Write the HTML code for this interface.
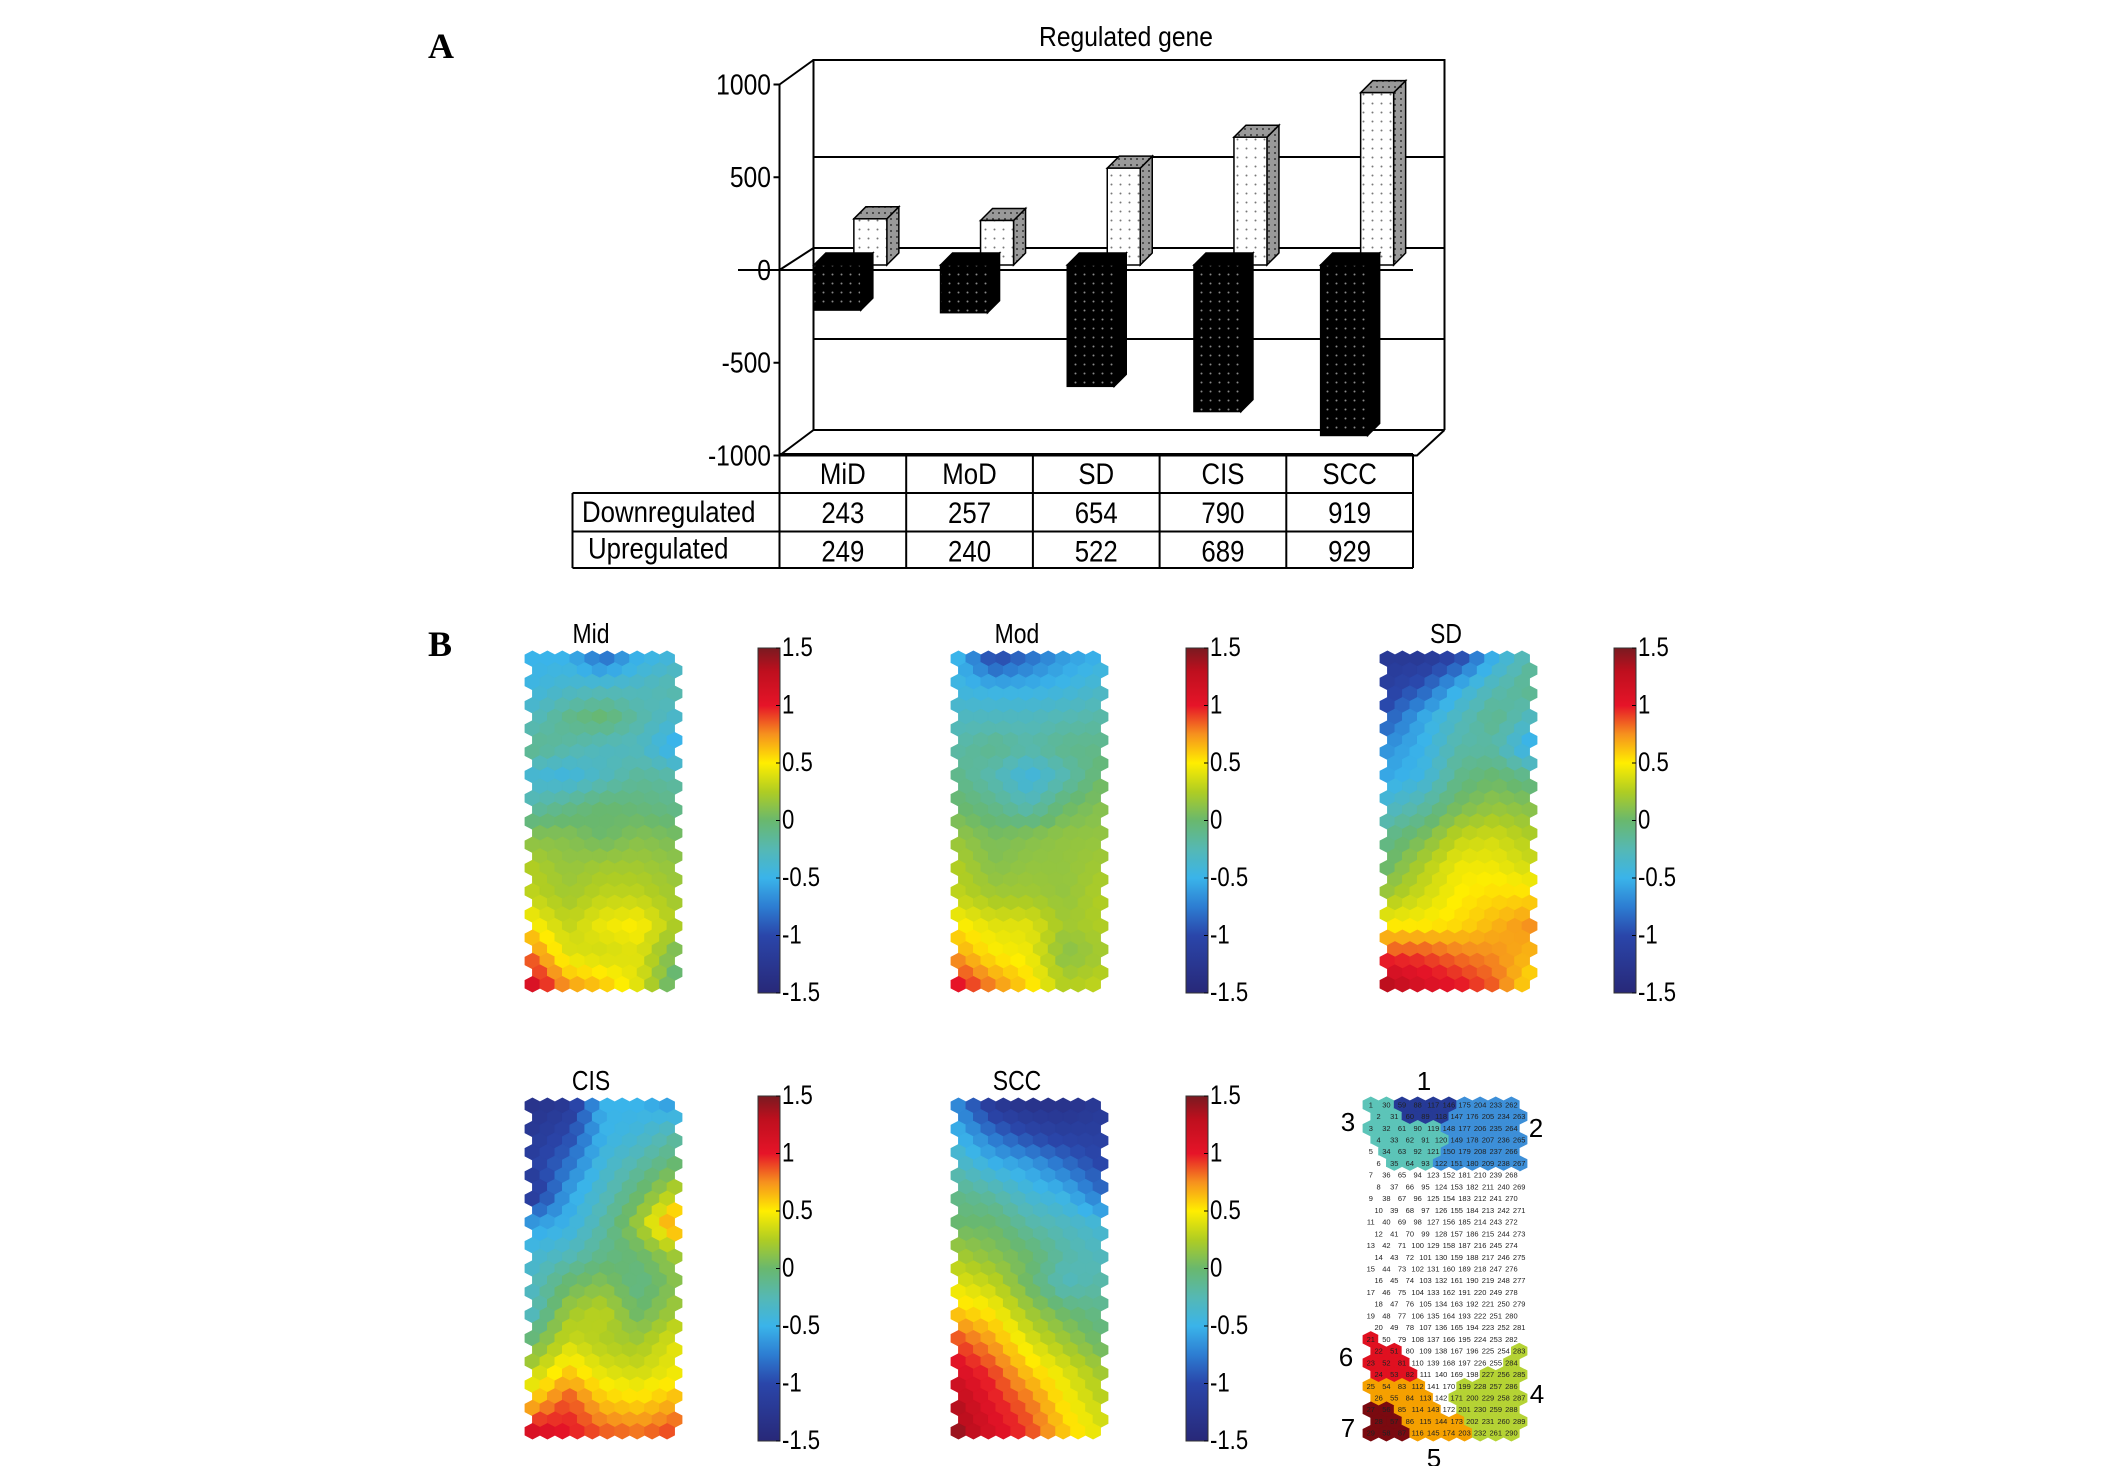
<!DOCTYPE html>
<html><head><meta charset="utf-8">
<style>
html,body{margin:0;padding:0;background:#fff;}
svg{display:block;font-family:"Liberation Sans",sans-serif;}
</style></head>
<body>
<svg id="fig" width="2126" height="1466" viewBox="0 0 2126 1466" xmlns="http://www.w3.org/2000/svg">
<defs>
<pattern id="dotsB" width="9" height="9" patternUnits="userSpaceOnUse"><rect width="9" height="9" fill="#000"/><circle cx="4.5" cy="4.5" r="1" fill="#888"/></pattern>
<pattern id="dotsW" width="9" height="9" patternUnits="userSpaceOnUse"><rect width="9" height="9" fill="#fff"/><circle cx="4.5" cy="4.5" r="1" fill="#777"/></pattern>
<pattern id="dotsG" width="6" height="6" patternUnits="userSpaceOnUse"><rect width="6" height="6" fill="#999"/><circle cx="3" cy="3" r="1" fill="#333"/></pattern>
<linearGradient id="jet" x1="0" y1="1" x2="0" y2="0"></linearGradient>
</defs>
<text x="428" y="58" font-family="Liberation Serif,serif" font-weight="bold" font-size="36">A</text>
<text x="428" y="656" font-family="Liberation Serif,serif" font-weight="bold" font-size="36">B</text>
<text x="1126" y="46" text-anchor="middle" font-size="28" transform="translate(1126,0) scale(0.88,1) translate(-1126,0)">Regulated gene</text>
<g id="barchart"></g>
<g id="maps"></g>
</svg>
<script>
const categories=["MiD","MoD","SD","CIS","SCC"];
const downValues=[243,257,654,790,919];
const upValues=[249,240,522,689,929];
const yTicks=[1000,500,0,-500,-1000];

const NS="http://www.w3.org/2000/svg";
function mk(tag,attrs,parent){const e=document.createElementNS(NS,tag);for(const k in attrs)e.setAttribute(k,attrs[k]);if(parent)parent.appendChild(e);return e;}
const bc=document.getElementById('barchart');
const X0=779.5,BAND=126.7,DX=34,Z=265,WALLTOP=60;
function yS(v){return 270-v*0.1855;}
function yB(v){return 248-v*0.182;}
function xC(i){return X0+BAND*(i+0.5);}
const ln={stroke:'#000','stroke-width':2,fill:'none'};
for(const t of [500,0,-500]){
  const l=mk('line',Object.assign({x1:X0+DX,x2:1444.5,y1:yB(t),y2:yB(t)},ln),bc);
  
  
}
let w=mk('path',Object.assign({d:`M${X0+DX},${yB(-1000)}V${WALLTOP}H1444.5V${yB(-1000)}`},ln),bc);


let fl=mk('path',Object.assign({d:`M${X0},${yS(-1000)}L${X0+DX},${yB(-1000)}M${X0},${yS(1000)}L${X0+DX},${WALLTOP}M${X0},${yS(0)}L${X0+DX},${yB(0)}M${X0},${yS(-1000)}H1417L1444.5,${yB(-1000)}M${X0+DX},${yB(-1000)}H1444.5`},ln),bc);


let zl=mk('line',Object.assign({x1:738,x2:1413,y1:yS(0),y2:yS(0)},ln),bc);


let ax=mk('line',Object.assign({x1:X0,x2:X0,y1:yS(1000),y2:yS(-1000)},ln),bc);


yTicks.forEach(t=>{
  const tx=mk('text',{x:771,y:yS(t)+10,'text-anchor':'end','font-size':29,transform:`translate(771,0) scale(0.85,1) translate(-771,0)`},bc);
  tx.textContent=t;
  
  
  mk('line',{x1:X0-6,x2:X0,y1:yS(t),y2:yS(t),stroke:'#000','stroke-width':2},bc);
});
function box(x1,x2,yTop,yBot,front,side,top,name){
  const g=mk('g',{},bc);
  
  
  const d=12;
  mk('path',{d:`M${x2},${yTop}L${x2+d},${yTop-d}V${yBot-d}L${x2},${yBot}Z`,fill:side,stroke:'#000','stroke-width':1.5},g);
  mk('path',{d:`M${x1},${yTop}L${x1+d},${yTop-d}H${x2+d}L${x2},${yTop}Z`,fill:top,stroke:'#000','stroke-width':1.5},g);
  mk('rect',{x:x1,y:yTop,width:x2-x1,height:yBot-yTop,fill:front,stroke:'#000','stroke-width':1.5},g);
}
categories.forEach((c,i)=>{
  const cx=xC(i);
  box(cx+11,cx+44,Z-upValues[i]*0.1855,Z,'url(#dotsW)','url(#dotsG)','url(#dotsG)','up-bar-'+c.toLowerCase());
  box(cx-29,cx+18,Z,Z+downValues[i]*0.1855,'url(#dotsB)','#000','#000','down-bar-'+c.toLowerCase());
});
const rows=[454,493,531.5,568];
const tg=mk('g',{},bc);


mk('path',{d:`M${X0},${rows[0]}H1413M572.5,${rows[1]}H1413M572.5,${rows[2]}H1413M572.5,${rows[3]}H1413M572.5,${rows[1]}V${rows[3]}`,stroke:'#000','stroke-width':2,fill:'none'},tg);
for(let i=0;i<=5;i++)mk('line',{x1:X0+BAND*i,x2:X0+BAND*i,y1:rows[0],y2:rows[3],stroke:'#000','stroke-width':2},tg);
function cell(txt,x,y,anchor,name){const t=mk('text',{x:x,y:y,'text-anchor':anchor,'font-size':30,transform:`translate(${x},0) scale(0.86,1) translate(${-x},0)`},tg);t.textContent=txt;}
categories.forEach((c,i)=>{cell(c,xC(i),rows[0]+30,'middle','category-label');cell(downValues[i],xC(i),rows[1]+30,'middle','down-value');cell(upValues[i],xC(i),rows[2]+30,'middle','up-value');});
cell('Downregulated',582,rows[1]+29,'start','row-label-down');
cell('Upregulated',588,rows[2]+27,'start','row-label-up');

// ---- SOM maps ----
const mapMid=[[-0.5,-0.5,-0.8,-0.5,-0.4],[-0.45,-0.35,-0.3,-0.3,-0.2],[-0.3,-0.1,0,-0.2,-0.35],[-0.1,-0.2,-0.3,-0.3,-0.55],[-0.4,-0.45,-0.3,-0.15,-0.2],[-0.2,-0.1,0,-0.05,-0.1],[0.1,0.1,0,0.1,0.05],[0.25,0.15,0.2,0.2,0.15],[0.3,0.2,0.3,0.3,0.2],[0.5,0.3,0.45,0.5,0.25],[0.8,0.4,0.35,0.4,0.05],[1.1,0.7,0.6,0.4,-0.05]];
const mapMod=[[-0.5,-1.0,-0.8,-0.6,-0.5],[-0.45,-0.5,-0.5,-0.45,-0.35],[-0.3,-0.3,-0.3,-0.25,-0.2],[-0.2,-0.1,-0.2,-0.1,-0.1],[-0.1,-0.25,-0.45,-0.25,0],[0,-0.1,-0.25,0,0.1],[0.15,0.05,0.1,0.15,0.15],[0.25,0.1,0.15,0.15,0.2],[0.3,0.2,0.2,0.15,0.25],[0.5,0.4,0.4,0.2,0.25],[0.7,0.5,0.45,0.1,0.2],[1.0,0.75,0.55,0.25,0.3]];
const mapSD=[[-1.2,-1.2,-1.0,-0.5,-0.2],[-1.1,-0.9,-0.5,-0.25,-0.1],[-0.9,-0.55,-0.3,-0.1,-0.3],[-0.65,-0.5,-0.2,-0.2,-0.55],[-0.55,-0.45,-0.1,0,-0.1],[-0.35,-0.2,0.05,0.15,0.1],[-0.1,0.05,0.3,0.35,0.25],[0,0.25,0.45,0.45,0.35],[0.2,0.35,0.5,0.55,0.55],[0.5,0.5,0.55,0.65,0.75],[0.9,0.9,0.8,0.75,0.65],[1.3,1.1,1.0,0.85,0.55]];
const mapCIS=[[-1.3,-1.2,-0.5,-0.5,-0.6],[-1.2,-1.0,-0.5,-0.4,-0.2],[-1.1,-0.8,-0.4,-0.2,0],[-1.2,-0.6,-0.3,0,0.3],[-0.6,-0.5,-0.2,0.2,0.8],[-0.4,-0.3,-0.1,0,0.2],[-0.3,0,0.1,-0.1,0.1],[-0.3,0.2,0.3,0,0.2],[0,0.35,0.25,0.2,0.4],[0.3,0.6,0.4,0.35,0.45],[0.6,0.9,0.6,0.55,0.65],[1.1,1.0,0.85,0.8,0.9]];
const mapSCC=[[-0.7,-1.2,-1.3,-1.3,-1.2],[-0.5,-0.8,-1.0,-1.1,-1.1],[-0.3,-0.5,-0.6,-0.8,-1.0],[-0.1,-0.2,-0.4,-0.5,-0.8],[0,0,-0.2,-0.3,-0.4],[0.2,0.1,0,-0.2,-0.3],[0.4,0.3,0,-0.3,-0.2],[0.6,0.5,0.2,0,-0.1],[0.9,0.7,0.4,0.2,0],[1.1,0.9,0.6,0.4,0.2],[1.3,1.0,0.8,0.5,0.3],[1.4,1.1,0.9,0.6,0.4]];
const clusterRows=["3311112222","3311122222","3333322222","3333322222","0333322222","0333222222",
"0000000000","0000000000","0000000000","0000000000","0000000000","0000000000","0000000000","0000000000",
"0000000000","0000000000","0000000000","0000000000","0000000000","0000000000",
"6000000000","6600000004","6660000004","6660000444","5555004444","5555044444","7755504444","7755554444","7775555444"];
const cbTicks=[1.5,1,0.5,0,-0.5,-1,-1.5];
const clusterColors=["#ffffff","#263a96","#3d8fd8","#5cc4b8","#b5d334","#f5a000","#e01020","#7a0a10"];
const cmVals=[-1.5,-1.0,-0.75,-0.5,-0.25,0,0.25,0.5,0.75,1.0,1.3,1.5];
const cmCols=[[40,40,120],[42,70,170],[45,125,210],[58,180,234],[85,184,180],[105,184,110],[175,205,35],[255,238,0],[246,145,30],[230,20,40],[190,15,30],[122,26,32]];

const grad=document.getElementById('jet');
cmVals.forEach((v,i)=>mk('stop',{offset:(v+1.5)/3,'stop-color':`rgb(${cmCols[i].join(',')})`},grad));
const mg=document.getElementById('maps');
function jet(v){v=Math.max(-1.5,Math.min(1.5,v));let i=0;while(i<cmVals.length-2&&v>cmVals[i+1])i++;const a=(v-cmVals[i])/(cmVals[i+1]-cmVals[i]);const c=k=>Math.round(cmCols[i][k]*(1-a)+cmCols[i+1][k]*a);return `rgb(${c(0)},${c(1)},${c(2)})`;}
const COLS=10,ROWS=29;
function hexes(x0,y0,W,H,valFn,name,labels){
  const g=mk('g',{},mg);
  
  
  const w=W/(COLS+0.5),rh=H/(ROWS+1/3),h=rh*4/3;
  for(let r=0;r<ROWS;r++)for(let c=0;c<COLS;c++){
    const cx=x0+w/2+c*w+(r%2?w/2:0),cy=y0+h/2+r*rh;
    const col=valFn(r,c);
    mk('path',{d:`M${cx},${cy-h/2}L${cx+w/2},${cy-h/4}V${cy+h/4}L${cx},${cy+h/2}L${cx-w/2},${cy+h/4}V${cy-h/4}Z`,fill:col,stroke:col,'stroke-width':0.8},g);
    if(labels){const t=mk('text',{x:cx,y:cy+2.5,'text-anchor':'middle','font-size':7.5,fill:'#222'},g);t.textContent=c*29+r+1;}
  }
}
function sample(data){return (r,c)=>{
  const fy=(r/(ROWS-1))*(data.length-1),fx=((c+(r%2?0.5:0))/(COLS-0.5))*(data[0].length-1);
  const y0=Math.floor(fy),x0=Math.floor(fx),y1=Math.min(y0+1,data.length-1),x1=Math.min(x0+1,data[0].length-1);
  const a=fy-y0,b=fx-x0;
  const v=data[y0][x0]*(1-a)*(1-b)+data[y0][x1]*(1-a)*b+data[y1][x0]*a*(1-b)+data[y1][x1]*a*b;
  return jet(v);};}
function colorbar(x,y,hgt,name){
  const g=mk('g',{},mg);
  
  
  mk('rect',{x:x,y:y,width:22,height:hgt,fill:'url(#jet)',stroke:'#333','stroke-width':1},g);
  cbTicks.forEach(t=>{const ty=y+(1.5-t)/3*hgt;mk('line',{x1:x+18,x2:x+22,y1:ty,y2:ty,stroke:'#000'},g);
    const tx=mk('text',{x:x+24,y:ty+8,'font-size':27,transform:`translate(${x+24},0) scale(0.82,1) translate(${-x-24},0)`},g);tx.textContent=t;
    
    });
}
function title(txt,x,y,name){const t=mk('text',{x:x,y:y,'text-anchor':'middle','font-size':28,transform:`translate(${x},0) scale(0.82,1) translate(${-x},0)`},mg);t.textContent=txt;}
const panels=[[mapMid,'Mid',525,651,758,648],[mapMod,'Mod',951,651,1186,648],[mapSD,'SD',1380,651,1614,648],[mapCIS,'CIS',525,1098,758,1096],[mapSCC,'SCC',951,1098,1186,1096]];
panels.forEach(p=>{
  hexes(p[2],p[3],157,341,sample(p[0]),'map-'+p[1].toLowerCase(),false);
  colorbar(p[4],p[5],345,'colorbar-'+p[1].toLowerCase());
  title(p[1],p[2]+66,p[3]-8,'title-'+p[1].toLowerCase());
});
hexes(1363,1097,164,344,(r,c)=>clusterColors[+clusterRows[r][c]],'cluster-map',true);
[["1",1424,1090],["2",1536,1137],["3",1348,1131],["6",1346,1366],["4",1537,1403],["7",1348,1437],["5",1434,1467]].forEach(l=>{
  const t=mk('text',{x:l[1],y:l[2],'text-anchor':'middle','font-size':26},mg);t.textContent=l[0];
  
  
});
</script>
</body></html>
